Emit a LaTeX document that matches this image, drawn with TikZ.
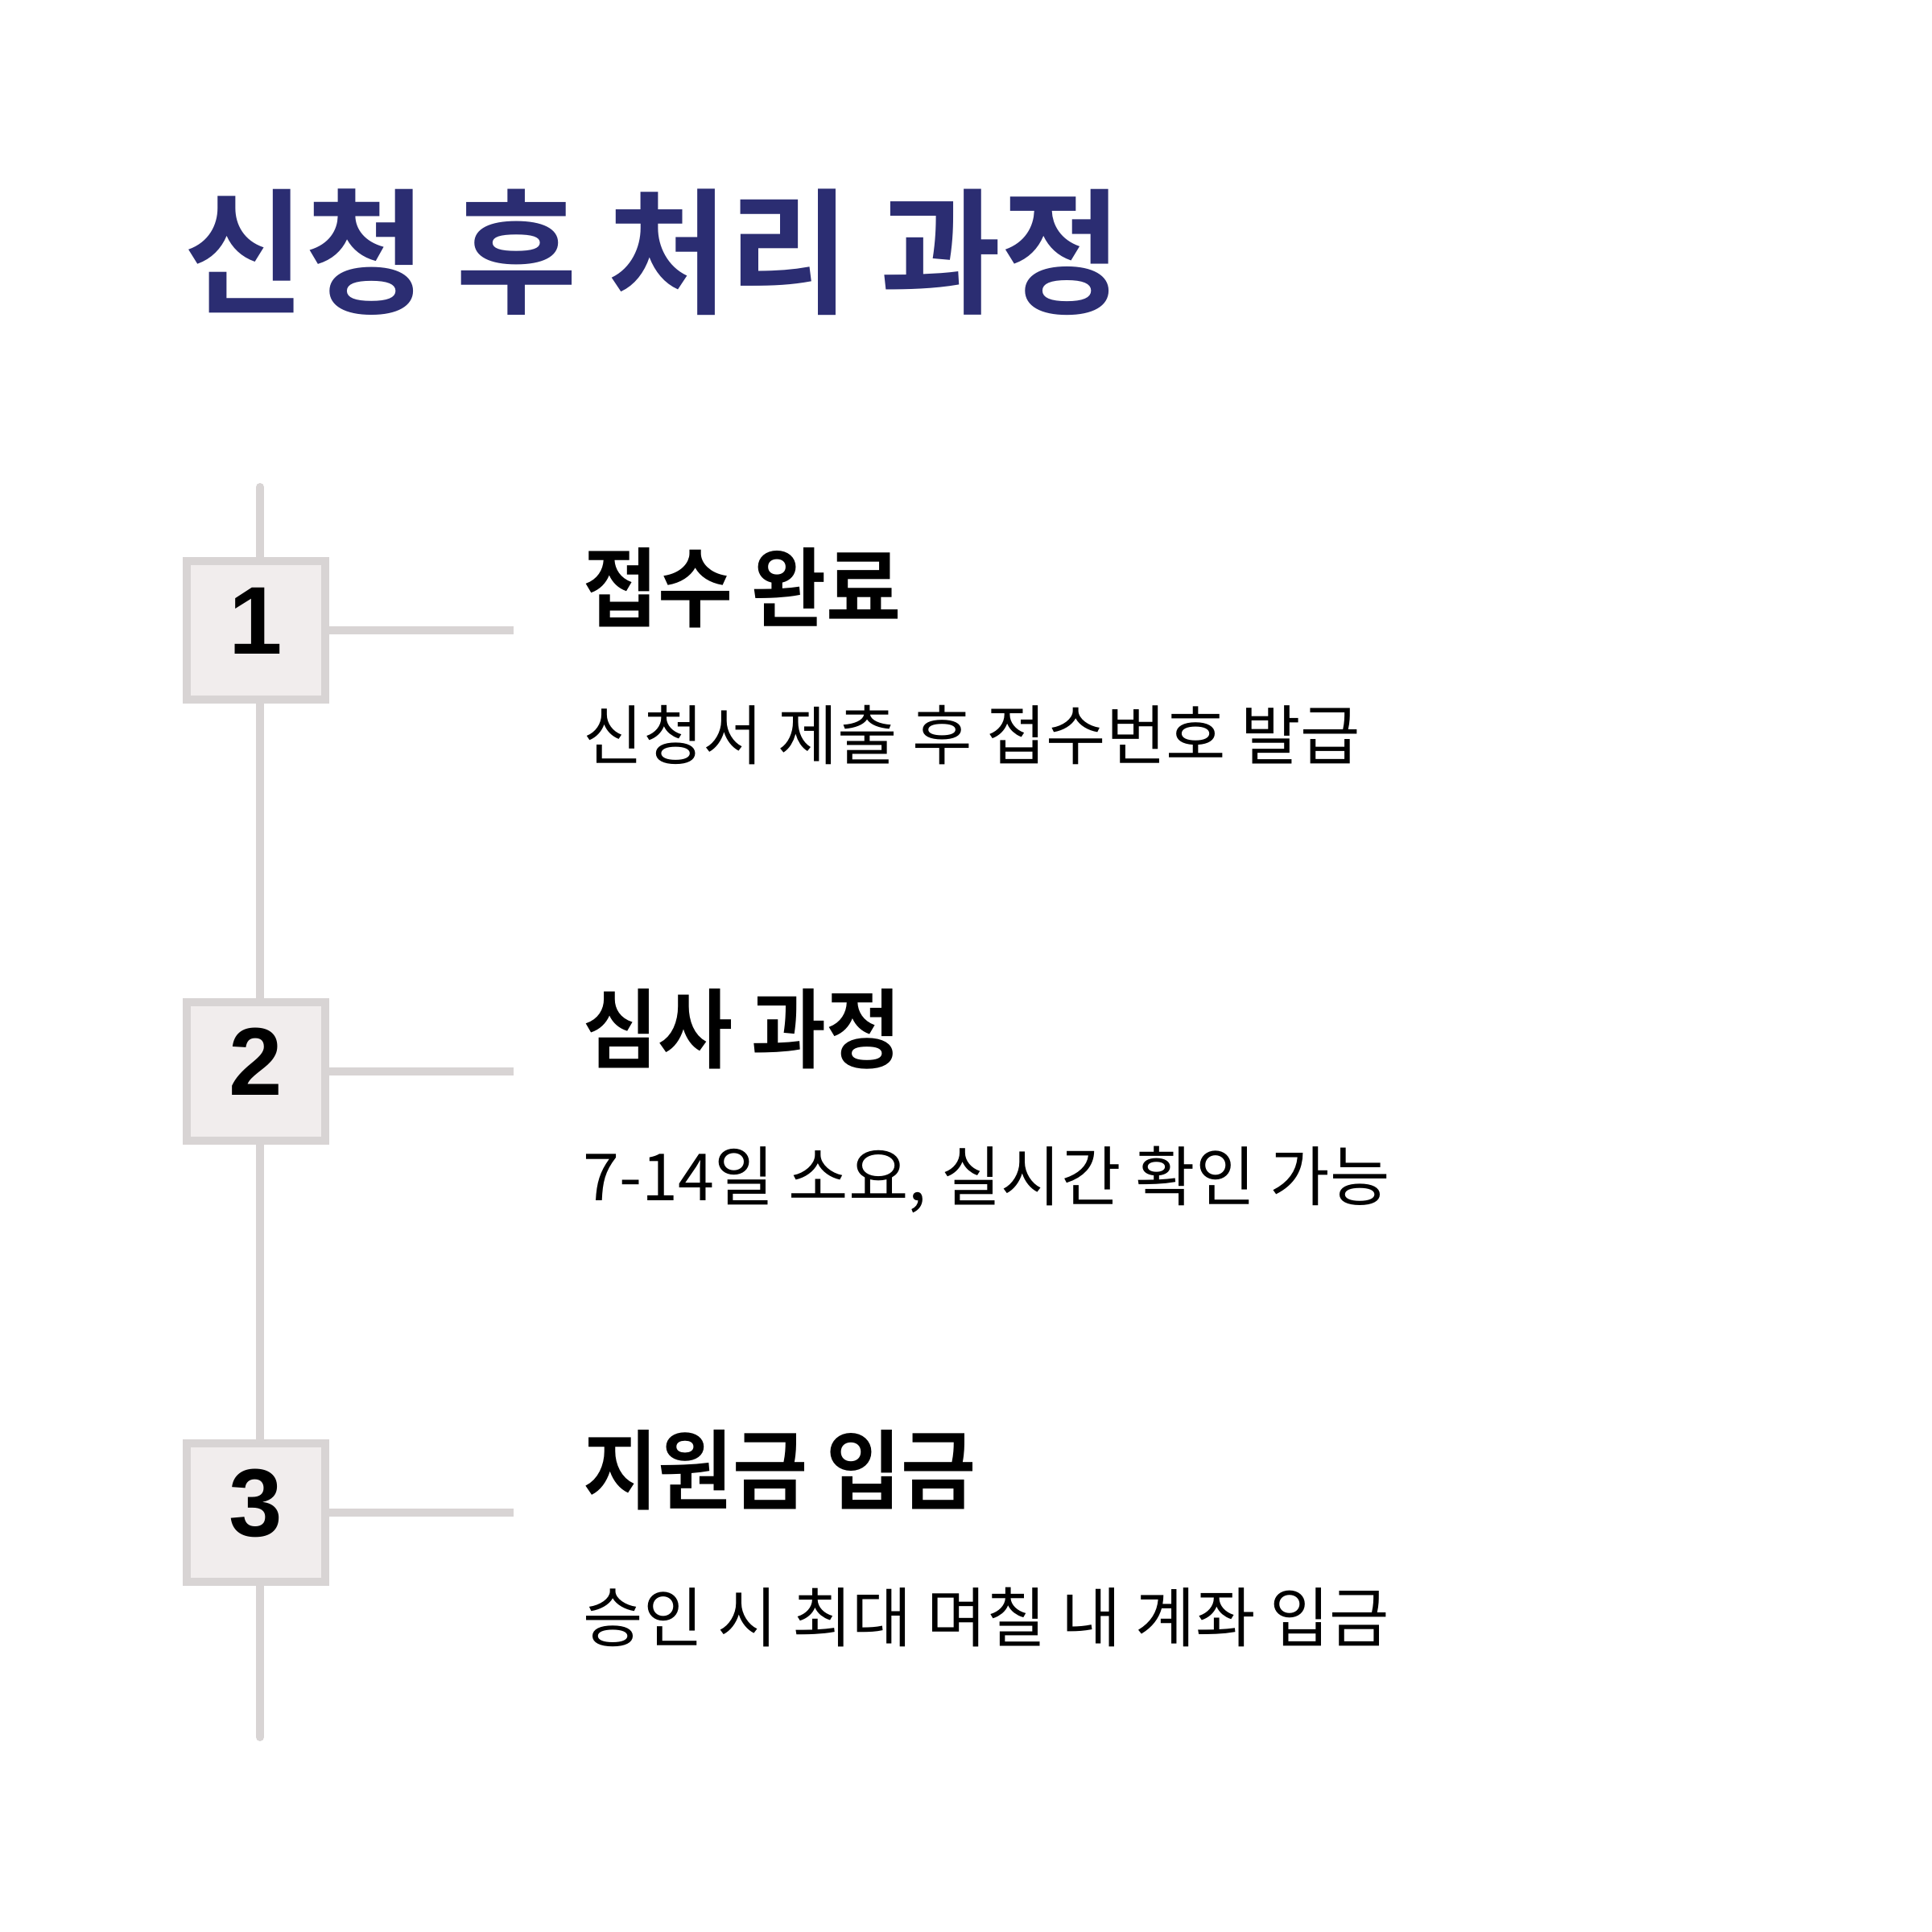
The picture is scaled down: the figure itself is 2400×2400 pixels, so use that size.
\documentclass[tikz,border=0pt]{standalone}
\usepackage{fontspec}
\newfontfamily\krr{Noto Sans CJK KR}
\newfontfamily\krtitle{Noto Sans CJK KR Bold}[FakeStretch=0.97]
\newfontfamily\krb{Noto Sans CJK KR Bold}[FakeStretch=0.94]
\newfontfamily\numfont{Liberation Sans Bold}
\definecolor{navy}{HTML}{2B2D72}
\definecolor{railgray}{HTML}{D8D4D4}
\definecolor{boxfill}{HTML}{F1EDED}
\begin{document}
\begin{tikzpicture}[x=0.01cm,y=-0.01cm,
  rail/.style={draw=railgray, line width=0.1cm, line cap=round},
  stepbox/.style={rectangle, draw=railgray, fill=boxfill, line width=0.1cm,
    minimum size=1.72cm, inner sep=0pt, text height=0.86cm, text depth=0.28cm,
    font=\numfont\fontsize{34}{40}\selectfont, text=black},
  titletext/.style={anchor=base west, inner sep=0pt, text=navy,
    font=\krtitle\fontsize{48}{58}\selectfont},
  headtext/.style={anchor=base west, inner sep=0pt, text=black,
    font=\krb\fontsize{30.6}{37}\selectfont},
  subtext/.style={anchor=base west, inner sep=0pt, text=black,
    font=\krr\fontsize{23}{28}\selectfont}]
\fill[white] (0,0) rectangle (2400,2400);
\useasboundingbox (0,0) rectangle (2400,2400);

\node[titletext] (title) at (228,376) {신청 후 처리 과정};

\coordinate (top) at (323,605);
\coordinate (bottom) at (323,2158);
\coordinate (h1) at (638,783);
\coordinate (h2) at (638,1331);
\coordinate (h3) at (638,1879);

\draw[rail] (top) -- (bottom);

\node[stepbox] (b1) at (318,783) {1};
\node[stepbox] (b2) at (318,1331) {2};
\node[stepbox] (b3) at (318,1879) {3};

\draw[rail, line cap=butt] (b1.east) -- (h1);
\draw[rail, line cap=butt] (b2.east) -- (h2);
\draw[rail, line cap=butt] (b3.east) -- (h3);

\node[headtext] (t1) at (724,770) {접수 완료};
\node[subtext]  (s1) at (724,943) {신청서 제출 후 접수번호 발급};
\node[headtext] (t2) at (724,1318) {심사 과정};
\node[subtext]  (s2) at (724,1491) {7-14일 소요, 실시간 확인 가능};
\node[headtext] (t3) at (724,1866) {지원금 입금};
\node[subtext]  (s3) at (724,2039) {승인 시 최대 며칠 내 계좌 입금};
\end{tikzpicture}
\end{document}
